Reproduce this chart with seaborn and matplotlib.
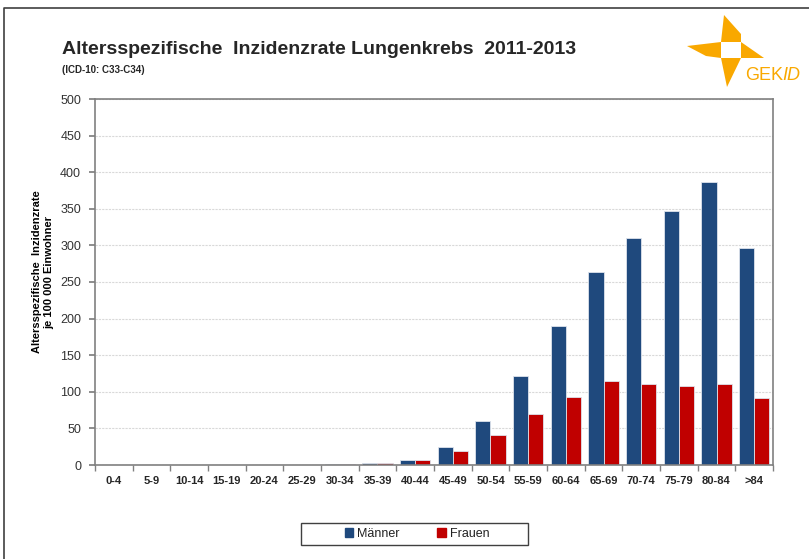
import pandas as pd
import matplotlib.pyplot as plt
import seaborn as sns
from matplotlib.patches import Polygon, Patch, Rectangle
from matplotlib.ticker import MultipleLocator, FixedLocator

# Data (je 100 000 Einwohner)
age_groups = ['0-4', '5-9', '10-14', '15-19', '20-24', '25-29', '30-34', '35-39', '40-44',
              '45-49', '50-54', '55-59', '60-64', '65-69', '70-74', '75-79', '80-84', '>84']
maenner = [0.5, 0.2, 0.3, 0.4, 0.4, 0.5, 0.9, 2.8, 7.4, 24, 60.5, 121, 189.5, 263, 310, 347, 386, 296]
frauen = [0.6, 0.1, 0.4, 0.4, 0.5, 0.6, 1.0, 2.6, 7.3, 19.5, 40.5, 70, 93, 115, 110, 108, 110, 91]

df = pd.DataFrame({
    'Altersgruppe': age_groups * 2,
    'Rate': maenner + frauen,
    'Geschlecht': ['Männer'] * len(age_groups) + ['Frauen'] * len(age_groups),
})
colors = {'Männer': '#1F497D', 'Frauen': '#C00000'}

sns.set_theme(style="white")
plt.rcParams['font.family'] = ['Liberation Sans', 'DejaVu Sans']

fig = plt.figure(figsize=(8.09, 5.59), dpi=100)
ax = fig.add_axes([95 / 809, 1 - 465 / 559, 678 / 809, 366 / 559])

sns.barplot(data=df, x='Altersgruppe', y='Rate', hue='Geschlecht', palette=colors,
            width=0.8, edgecolor='#dde3ec', linewidth=0.6, saturation=1, ax=ax)
ax.get_legend().remove()

ax.set_ylim(0, 500)
ax.set_xlim(-0.5, len(age_groups) - 0.5)
ax.yaxis.set_major_locator(MultipleLocator(50))
ax.grid(axis='y', color='#d9d9d9', linestyle=(0, (2, 1)), linewidth=0.8)
ax.set_axisbelow(True)
for s in ax.spines.values():
    s.set_color('#808080')
    s.set_linewidth(1.2)

ax.set_xlabel('')
ax.set_ylabel('Altersspezifische  Inzidenzrate\nje 100 000 Einwohner', fontsize=8,
              fontweight='bold', color='black', linespacing=1.3)
ax.yaxis.set_label_coords(-0.06, 0.527)
ax.tick_params(axis='y', labelsize=9, labelcolor='#333333', left=True, length=4,
               color='#808080', direction='out', pad=6)
ax.tick_params(axis='x', which='major', length=0, labelsize=8, pad=8)
for lbl in ax.get_xticklabels():
    lbl.set_fontweight('bold')
ax.xaxis.set_minor_locator(FixedLocator([i + 0.5 for i in range(-1, len(age_groups))]))
ax.tick_params(axis='x', which='minor', bottom=True, length=4, color='#808080', direction='out')

# Titles
fig.text(62 / 809, 1 - 50 / 559, 'Altersspezifische  Inzidenzrate Lungenkrebs  2011-2013',
         fontsize=14, fontweight='bold', va='center', ha='left')
fig.text(62 / 809, 1 - 70 / 559, '(ICD-10: C33-C34)', fontsize=7, fontweight='bold',
         va='center', ha='left')

# Legend (frame drawn separately so it can be wider than its entries)
handles = [Patch(facecolor=colors[k], edgecolor=colors[k]) for k in ['Männer', 'Frauen']]
leg = fig.legend(handles, ['Männer', 'Frauen'], loc='center', ncol=2,
                 bbox_to_anchor=(417 / 809, 1 - 534 / 559), fontsize=9, frameon=False,
                 handlelength=0.7, handleheight=0.7, handletextpad=0.3,
                 columnspacing=3.0, borderaxespad=0)
for t in leg.get_texts():
    t.set_color('#222222')

# Overlay for frame, legend box and logo (pixel coordinates)
ov = fig.add_axes([0, 0, 1, 1], zorder=-1)
ov.set_xlim(0, 809)
ov.set_ylim(559, 0)
ov.axis('off')
ov.plot([4, 4, 809], [559, 8, 8], color='#404040', linewidth=1.2)
ov.add_patch(Rectangle((301, 523), 227, 22, facecolor='white', edgecolor='#404040', linewidth=1))

orange = '#F9A800'
logo = [
    [(724, 15), (741, 34), (741, 42), (721, 42)],
    [(687, 46), (721, 42), (721, 58), (706, 56)],
    [(741, 42), (764, 58), (741, 58)],
    [(721, 58), (741, 58), (727, 87)],
]
for pts in logo:
    ov.add_patch(Polygon(pts, closed=True, facecolor=orange, edgecolor='none'))
ov.text(745, 75, 'GEK', color=orange, fontsize=13, va='center', ha='left')
ov.text(782.5, 75, 'ID', color=orange, fontsize=13, style='italic', va='center', ha='left')

fig.savefig('out.png', dpi=100)
